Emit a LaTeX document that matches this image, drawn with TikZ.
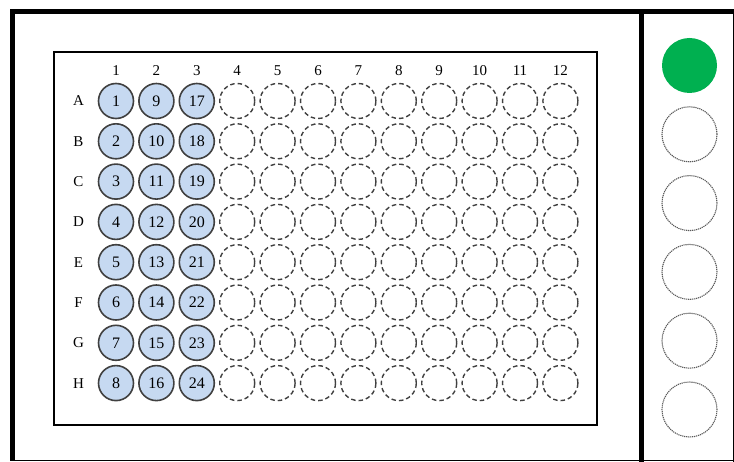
\documentclass[tikz,border=0pt]{standalone}
\usepackage{fontspec}
\setmainfont{Liberation Serif}
\definecolor{wellblue}{HTML}{C6D9F1}
\definecolor{ledgreen}{HTML}{00B050}
\begin{document}
\begin{tikzpicture}[x=1pt,y=-1pt,
  filled/.style={circle,draw=black!75,line width=1.6pt,fill=wellblue,minimum size=35pt,inner sep=0pt,font=\fontsize{16}{16}\selectfont},
  empty/.style={circle,draw=black!75,line width=1.4pt,dash pattern=on 4.5pt off 3pt,minimum size=35pt,inner sep=0pt},
  lbl/.style={font=\fontsize{15}{15}\selectfont,inner sep=0pt},
  led/.style={circle,minimum size=55pt,inner sep=0pt},
  ledoff/.style={led,draw=black!65,line width=1.1pt,dash pattern=on 1.2pt off 0.8pt},
  ledon/.style={led,fill=ledgreen}]
\useasboundingbox (0,0) rectangle (734,462);
% frames
\draw[line width=5pt] (12,460.5) -- (12,12) -- (736,12);
\draw[line width=5pt] (641,12) -- (641,462);
\draw[line width=1pt] (12,460.5) -- (734,460.5);
\draw[line width=1pt] (733.5,12) -- (733.5,462);
\node[draw,line width=1.4pt,minimum width=543pt,minimum height=373pt,inner sep=0pt] (plate) at (325.5,238.5) {};
% column labels
\foreach \c in {1,...,12}{
  \node[lbl] (col\c) at ({116+(\c-1)*40.4},71) {\c};
}
% row labels
\foreach \r [count=\i from 0] in {A,B,C,D,E,F,G,H}{
  \node[lbl] (row\r) at (78.5,{101+\i*40.3}) {\r};
}
% wells
\foreach \c in {1,...,12}{
  \foreach \r in {1,...,8}{
    \pgfmathtruncatemacro{\n}{(\c-1)*8+\r}
    \ifnum\c<4
      \node[filled] (w\c-\r) at ({116+(\c-1)*40.4},{101+(\r-1)*40.3}) {\n};
    \else
      \node[empty] (w\c-\r) at ({116+(\c-1)*40.4},{101+(\r-1)*40.3}) {};
    \fi
  }
}
% right panel indicators
\node[ledon] (led1) at (689.5,65.5) {};
\foreach \k in {2,...,6}{
  \node[ledoff] (led\k) at (689.5,{65.5+(\k-1)*68.8}) {};
}
\end{tikzpicture}
\end{document}
